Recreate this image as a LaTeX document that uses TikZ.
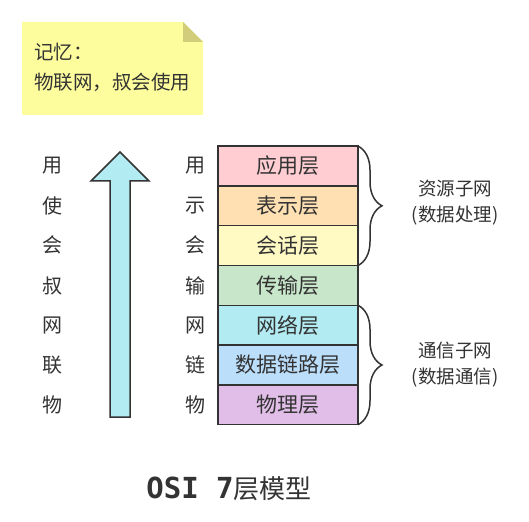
\documentclass[tikz,border=0pt]{standalone}
\usepackage{fontspec}
\setmainfont{Noto Sans CJK SC}
\newfontfamily\titlemono{DejaVu Sans Mono}
\usetikzlibrary{positioning}
\usetikzlibrary{decorations.pathreplacing}

\definecolor{ink}{HTML}{333333}
\definecolor{notefill}{HTML}{FDFD9E}
\definecolor{notefold}{HTML}{D1CD7A}
\definecolor{arrowfill}{HTML}{B2EBF2}
\definecolor{cApp}{HTML}{FFCDD2}
\definecolor{cPre}{HTML}{FFE0B2}
\definecolor{cSes}{HTML}{FFF9C4}
\definecolor{cTra}{HTML}{C8E6C9}
\definecolor{cNet}{HTML}{B2EBF2}
\definecolor{cDat}{HTML}{BBDEFB}
\definecolor{cPhy}{HTML}{E1BEE7}

\tikzset{
  layer/.style={draw=ink, line width=1.5pt, minimum width=140pt, minimum height=39.8pt,
    inner sep=0pt, outer sep=0pt, text=ink, font=\fontsize{21}{24}\selectfont},
  mnemo/.style={text=ink, font=\fontsize{20}{24}\selectfont, inner sep=0pt},
  side/.style={text=ink, font=\fontsize{18.5}{26}\selectfont, align=center, inner sep=0pt},
  curly/.style={draw=ink, line width=1.5pt, decorate,
    decoration={brace, amplitude=24pt}}
}

\begin{document}
\begin{tikzpicture}[x=1pt, y=-1pt]
\useasboundingbox (0,0) rectangle (529,521);

% note
\fill[notefill] (22,22) -- (183,22) -- (203,42) -- (203,115) -- (22,115) -- cycle;
\fill[notefold] (183,22) -- (203,42) -- (183,42) -- cycle;
\node[mnemo, anchor=west, align=left, font=\fontsize{19.5}{30}\selectfont] (note) at (34,67) {记忆：\\物联网，叔会使用};

% big arrow
\draw[ink, fill=arrowfill, line width=1.5pt, line join=miter]
  (110,417) -- (110,181) -- (91,181) -- (120,152) -- (149,181) -- (130,181) -- (130,417) -- cycle;

% left words
\node[mnemo] (l1) at (52,166) {用};
\node[mnemo] (l2) at (52,206) {使};
\node[mnemo] (l3) at (52,245) {会};
\node[mnemo] (l4) at (52,286) {叔};
\node[mnemo] (l5) at (52,325) {网};
\node[mnemo] (l6) at (52,365) {联};
\node[mnemo] (l7) at (52,405) {物};

% first letters
\node[mnemo] (m1) at (195,166) {用};
\node[mnemo] (m2) at (195,206) {示};
\node[mnemo] (m3) at (195,245) {会};
\node[mnemo] (m4) at (195,286) {输};
\node[mnemo] (m5) at (195,325) {网};
\node[mnemo] (m6) at (195,365) {链};
\node[mnemo] (m7) at (195,405) {物};

% layers
\node[layer, fill=cApp] (app) at (288,166) {应用层};
\node[layer, fill=cPre, below=0pt of app] (pre) {表示层};
\node[layer, fill=cSes, below=0pt of pre] (ses) {会话层};
\node[layer, fill=cTra, below=0pt of ses] (tra) {传输层};
\node[layer, fill=cNet, below=0pt of tra] (net) {网络层};
\node[layer, fill=cDat, below=0pt of net] (dat) {数据链路层};
\node[layer, fill=cPhy, below=0pt of dat] (phy) {物理层};

% braces
\draw[curly] (app.north east) -- (ses.south east);
\draw[curly] (net.north east) -- (phy.south east);
\node[side] (res) at (455,203) {资源子网\\(数据处理)};
\node[side] (com) at (455,365) {通信子网\\(数据通信)};

% title
\node[text=ink, inner sep=0pt] (title) at (229,489)
  {{\titlemono\bfseries\fontsize{29}{32}\selectfont OSI 7}{\fontsize{26}{32}\selectfont 层模型}};
\end{tikzpicture}
\end{document}
